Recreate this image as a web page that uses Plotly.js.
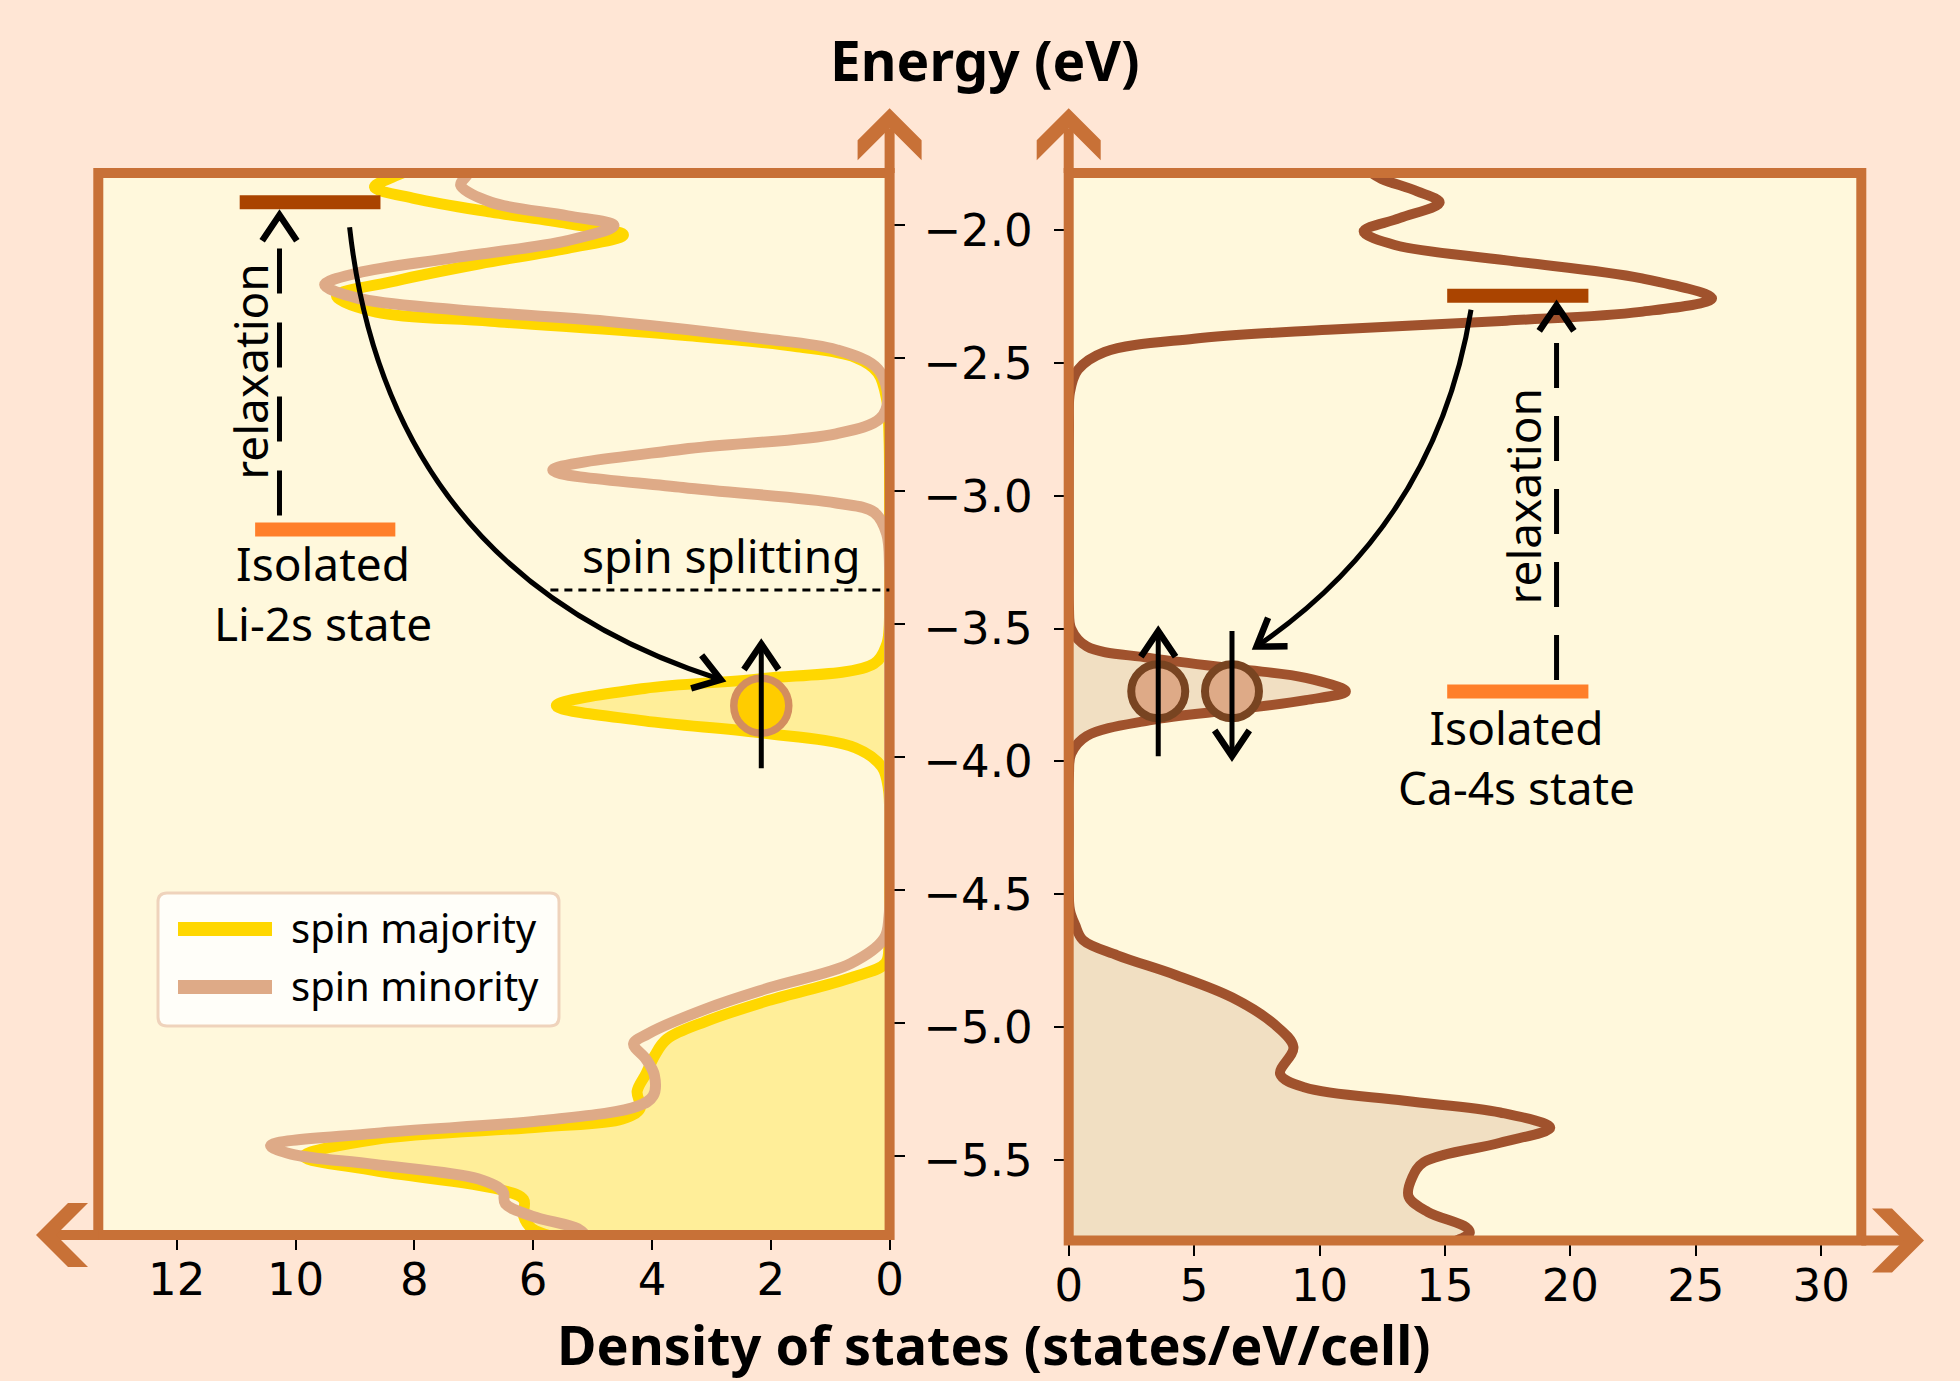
<!DOCTYPE html>
<html>
<head>
<meta charset="utf-8">
<script src="https://cdn.plot.ly/plotly-3.0.1.min.js"></script>
<style>
  html, body { margin: 0; padding: 0; background: #FFE6D5; }
  #chart { width: 1960px; height: 1381px; }
</style>
</head>
<body>
<div id="chart"></div>
<script>
// ---- Li: spin-resolved density of states (energy in eV, DOS in states/eV/cell)
const liEnergyMaj = [-1.78, -1.822, -1.858, -1.901, -1.952, -1.995, -2.038, -2.088, -2.146, -2.21, -2.268,
  -2.328, -2.362, -2.415, -2.458, -2.498, -2.555, -2.656, -2.8, -3.0, -3.2, -3.4, -3.52, -3.577, -3.649,
  -3.706, -3.742, -3.807, -3.864, -3.908, -3.965, -4.037, -4.12, -4.3, -4.5, -4.7, -4.775, -4.829, -4.915,
  -4.993, -5.06, -5.12, -5.19, -5.256, -5.32, -5.36, -5.39, -5.437, -5.5, -5.554, -5.624, -5.663, -5.725,
  -5.772, -5.80];
const liDosMaj = [7.9, 8.38, 8.67, 7.99, 6.71, 5.42, 4.48, 5.42, 6.9, 8.31, 9.31,
  8.64, 6.71, 3.48, 1.55, 0.58, 0.2, 0.05, 0.01, 0, 0, 0, 0.01, 0.05, 0.26,
  2.2, 4.13, 5.61, 4.13, 2.2, 0.58, 0.13, 0.02, 0, 0, 0.01, 0.07, 0.65, 2.04,
  3.09, 3.75, 3.95, 4.1, 4.25, 4.2, 4.5, 5.88, 8.67, 9.86, 8.67, 6.58, 6.16, 6.16,
  6.02, 5.7];

const liEnergyMin = [-1.78, -1.815, -1.851, -1.915, -1.966, -2.002, -2.059, -2.124, -2.181, -2.225, -2.275,
  -2.318, -2.362, -2.426, -2.469, -2.541, -2.656, -2.728, -2.785, -2.843, -2.922, -2.987, -3.045, -3.08,
  -3.16, -3.3, -3.5, -3.8, -4.1, -4.4, -4.6, -4.681, -4.775, -4.868, -4.946, -5.04, -5.078, -5.135, -5.195,
  -5.273, -5.312, -5.367, -5.414, -5.46, -5.492, -5.531, -5.585, -5.632, -5.678, -5.725, -5.772, -5.80];
const liDosMin = [7.0, 7.12, 7.22, 6.71, 5.42, 4.64, 5.42, 7.35, 8.96, 9.51, 8.96,
  7.35, 4.77, 2.2, 0.9, 0.2, 0.03, 0.16, 0.9, 3.48, 5.67, 3.48, 0.9, 0.26,
  0.05, 0, 0, 0, 0, 0, 0.01, 0.09, 0.65, 2.04, 3.09, 4.07, 4.31, 4.1, 3.96,
  3.98, 4.24, 5.88, 8.67, 10.42, 10.07, 8.67, 6.93, 6.51, 6.47, 6.02, 5.25, 5.1];

// ---- Ca: total density of states
const caEnergy = [-1.78, -1.806, -1.853, -1.895, -1.954, -2.004, -2.055, -2.113, -2.18, -2.256, -2.307,
  -2.34, -2.374, -2.408, -2.458, -2.525, -2.61, -2.75, -3.0, -3.25, -3.42, -3.50, -3.567, -3.61, -3.652,
  -3.685, -3.736, -3.769, -3.803, -3.845, -3.904, -3.971, -4.05, -4.25, -4.45, -4.56, -4.616, -4.673,
  -4.73, -4.803, -4.889, -4.99, -5.076, -5.177, -5.228, -5.278, -5.322, -5.379, -5.436, -5.509, -5.566,
  -5.638, -5.696, -5.754, -5.775, -5.81];
const caDos = [12.0, 12.47, 13.9, 14.79, 13.19, 11.76, 13.0, 17.46, 22.8, 25.65, 22.8,
  17.46, 10.34, 4.99, 1.43, 0.37, 0.05, 0.01, 0, 0, 0.01, 0.1, 0.72, 3.21, 6.78,
  9.45, 11.05, 9.45, 6.78, 3.21, 0.72, 0.1, 0.01, 0, 0, 0.05, 0.26, 0.57,
  1.94, 4.23, 6.52, 8.2, 8.96, 8.43, 9.42, 13.39, 17.2, 19.2, 17.2, 14.16, 13.7,
  13.55, 14.31, 15.84, 15.99, 15.3];

// occupied states are shaded below this energy
const eOccupied = -3.37;

// ticks
const energyTicks = [-2.0, -2.5, -3.0, -3.5, -4.0, -4.5, -5.0, -5.5];
const energyTickText = ['\u22122.0', '\u22122.5', '\u22123.0', '\u22123.5', '\u22124.0', '\u22124.5', '\u22125.0', '\u22125.5'];
const liDosTicks = [0, 2, 4, 6, 8, 10, 12];
const caDosTicks = [0, 5, 10, 15, 20, 25, 30];

// energy levels (eV) and their horizontal extent (DOS units)
const liRelaxedE = -1.915, liRelaxedDos = [8.57, 10.94];
const liIsolatedE = -3.145, liIsolatedDos = [8.32, 10.68];
const caRelaxedE = -2.246, caIsolatedE = -3.737, caLevelDos = [15.09, 20.72];

// electrons sitting in the occupied peaks
const liElectronDos = [2.16], liElectronE = [-3.807];
const caElectronDos = [3.57, 6.51], caElectronE = [-3.736, -3.736];

// spin splitting marker
const eSplit = -3.372, splitDos = [5.71, 0];

// ---------------------------------------------------------------------------
const W = 1960, H = 1381;
const liBox = {left: 98.3, right: 889.6, top: 173, bottom: 1235};
const caBox = {left: 1068.7, right: 1861.3, top: 173, bottom: 1240.5};
const liDosRange = [13.32, 0], liEnergyRange = [-5.796, -1.805];
const caDosRange = [0, 31.6], caEnergyRange = [-5.804, -1.784];

const spine = '#C87137';
const textFont = 'Noto Sans, DejaVu Sans, sans-serif';
const tickFont = {family: 'DejaVu Sans, sans-serif', size: 45, color: '#000'};

function pxScale(box, xr, yr) {
  return {kx: (box.right - box.left) / (xr[1] - xr[0]),
          ky: -(box.bottom - box.top) / (yr[1] - yr[0])};
}
const liSc = pxScale(liBox, liDosRange, liEnergyRange);
const caSc = pxScale(caBox, caDosRange, caEnergyRange);

const px = x => x / W, py = y => 1 - y / H;

function below(es, ds, cut) {
  const x = [], y = [];
  es.forEach((e, i) => { if (e <= cut) { x.push(ds[i]); y.push(e); } });
  return {x, y};
}

// open arrow head (data coords), u = pixel direction of travel
function openHead(sc, tip, ux, uy, len = 31, half = 34) {
  const a = half * Math.PI / 180;
  const pts = [a, -a].map(t => {
    const bx = -(ux * Math.cos(t) - uy * Math.sin(t));
    const by = -(ux * Math.sin(t) + uy * Math.cos(t));
    return [tip[0] + bx * len / sc.kx, tip[1] + by * len / sc.ky];
  });
  return `M${pts[0][0]},${pts[0][1]} L${tip[0]},${tip[1]} L${pts[1][0]},${pts[1][1]}`;
}

// filled chevron for the axis arrows (pixel coords in, paper path out)
function axisHead(tx, ty, ux, uy) {
  const nx = -uy, ny = ux;
  const P = (a, b) => [tx + a * ux + b * nx, ty + a * uy + b * ny];
  const pts = [P(0, 0), P(-32, 32), P(-52, 32), P(-20, 0), P(-52, -32), P(-32, -32)];
  return 'M' + pts.map(p => `${px(p[0])},${py(p[1])}`).join(' L') + ' Z';
}

function roundRect(x0, y0, x1, y1, r) {
  const P = (x, y) => `${px(x)},${py(y)}`;
  return `M${P(x0 + r, y0)} L${P(x1 - r, y0)} Q${P(x1, y0)} ${P(x1, y0 + r)} L${P(x1, y1 - r)} ` +
         `Q${P(x1, y1)} ${P(x1 - r, y1)} L${P(x0 + r, y1)} Q${P(x0, y1)} ${P(x0, y1 - r)} ` +
         `L${P(x0, y0 + r)} Q${P(x0, y0)} ${P(x0 + r, y0)} Z`;
}

const headWidth = 6.5;

// curved transfer arrow: quadratic Bezier in data coords + head along end tangent
function curvedArrow(sc, xref, yref, p0, c, p2) {
  const dx = (p2[0] - c[0]) * sc.kx, dy = (p2[1] - c[1]) * sc.ky;
  const n = Math.hypot(dx, dy);
  return [
    {type: 'path', xref, yref, layer: 'above', line: {color: '#000', width: 5},
     path: `M${p0[0]},${p0[1]} Q${c[0]},${c[1]} ${p2[0]},${p2[1]}`},
    {type: 'path', xref, yref, layer: 'above', line: {color: '#000', width: headWidth},
     path: openHead(sc, p2, dx / n, dy / n)}
  ];
}

function vArrow(sc, xref, yref, x, yFrom, yTo, width, dash) {
  const up = yTo > yFrom;
  return [
    {type: 'line', xref, yref, layer: 'above', x0: x, x1: x, y0: yFrom, y1: yTo,
     line: {color: '#000', width, dash: dash || 'solid'}},
    {type: 'path', xref, yref, layer: 'above', line: {color: '#000', width: headWidth},
     path: openHead(sc, [x, yTo], 0, up ? -1 : 1)}
  ];
}

// ---------------------------------------------------------------------------
const liFill = below(liEnergyMaj, liDosMaj, eOccupied);
const caFill = below(caEnergy, caDos, eOccupied);

const traces = [
  {x: liFill.x, y: liFill.y, xaxis: 'x', yaxis: 'y', mode: 'lines', fill: 'tozerox',
   fillcolor: 'rgba(255,215,0,0.3)', line: {width: 0, shape: 'spline'}, hoverinfo: 'skip', showlegend: false},
  {x: liDosMaj, y: liEnergyMaj, xaxis: 'x', yaxis: 'y', mode: 'lines', name: 'spin majority',
   line: {color: '#FFD700', width: 11, shape: 'spline'}, showlegend: false},
  {x: liDosMin, y: liEnergyMin, xaxis: 'x', yaxis: 'y', mode: 'lines', name: 'spin minority',
   line: {color: '#DEAA87', width: 11, shape: 'spline'}, showlegend: false},
  {x: liElectronDos, y: liElectronE, xaxis: 'x', yaxis: 'y', mode: 'markers', showlegend: false,
   marker: {size: 55, color: '#FFCC00', line: {color: '#D38D5F', width: 7.5}}},
  {x: caFill.x, y: caFill.y, xaxis: 'x2', yaxis: 'y2', mode: 'lines', fill: 'tozerox',
   fillcolor: 'rgba(160,82,45,0.15)', line: {width: 0, shape: 'spline'}, hoverinfo: 'skip', showlegend: false},
  {x: caDos, y: caEnergy, xaxis: 'x2', yaxis: 'y2', mode: 'lines', name: 'Ca',
   line: {color: '#A0522D', width: 10, shape: 'spline'}, showlegend: false},
  {x: caElectronDos, y: caElectronE, xaxis: 'x2', yaxis: 'y2', mode: 'markers', showlegend: false,
   marker: {size: 54, color: '#DEAA87', line: {color: '#784421', width: 8}}}
];

const shapes = [];

// panel frames
shapes.push({type: 'rect', xref: 'x domain', yref: 'y domain', x0: 0, x1: 1, y0: 0, y1: 1,
  layer: 'above', line: {color: spine, width: 10}});
shapes.push({type: 'rect', xref: 'x2 domain', yref: 'y2 domain', x0: 0, x1: 1, y0: 0, y1: 1,
  layer: 'above', line: {color: spine, width: 10}});

// axis arrows: energy axes point up, DOS axes point outward
const heads = [
  {x0: liBox.right, y0: liBox.top, tx: liBox.right, ty: 108.3, ux: 0, uy: -1},
  {x0: caBox.left, y0: caBox.top, tx: caBox.left, ty: 108.3, ux: 0, uy: -1},
  {x0: liBox.left, y0: liBox.bottom, tx: 36, ty: liBox.bottom, ux: -1, uy: 0},
  {x0: caBox.right, y0: caBox.bottom, tx: 1924, ty: caBox.bottom, ux: 1, uy: 0}
];
heads.forEach(h => {
  shapes.push({type: 'line', xref: 'paper', yref: 'paper', layer: 'above',
    x0: px(h.x0), y0: py(h.y0), x1: px(h.tx - 20 * h.ux), y1: py(h.ty - 20 * h.uy),
    line: {color: spine, width: 10}});
  shapes.push({type: 'path', xref: 'paper', yref: 'paper', layer: 'above',
    path: axisHead(h.tx, h.ty, h.ux, h.uy), fillcolor: spine, line: {width: 0}});
});

// energy level bars
shapes.push({type: 'line', xref: 'x', yref: 'y', layer: 'above', x0: liRelaxedDos[0], x1: liRelaxedDos[1],
  y0: liRelaxedE, y1: liRelaxedE, line: {color: '#AA4400', width: 14}});
shapes.push({type: 'line', xref: 'x', yref: 'y', layer: 'above', x0: liIsolatedDos[0], x1: liIsolatedDos[1],
  y0: liIsolatedE, y1: liIsolatedE, line: {color: '#FF7F2A', width: 14}});
shapes.push({type: 'line', xref: 'x2', yref: 'y2', layer: 'above', x0: caLevelDos[0], x1: caLevelDos[1],
  y0: caRelaxedE, y1: caRelaxedE, line: {color: '#AA4400', width: 14}});
shapes.push({type: 'line', xref: 'x2', yref: 'y2', layer: 'above', x0: caLevelDos[0], x1: caLevelDos[1],
  y0: caIsolatedE, y1: caIsolatedE, line: {color: '#FF7F2A', width: 14}});

// spin splitting marker
shapes.push({type: 'line', xref: 'x', yref: 'y', layer: 'above', x0: splitDos[0], x1: splitDos[1],
  y0: eSplit, y1: eSplit, line: {color: '#000', width: 2.8, dash: '8px,6px'}});

// relaxation arrows (dashed, from the isolated level upward)
shapes.push(...vArrow(liSc, 'x', 'y', 10.27, -3.092, -1.963, 5, '45px,29px'));
shapes.push(...vArrow(caSc, 'x2', 'y2', 19.45, -3.693, -2.282, 5, '45px,28px'));

// transfer arrows from the relaxed level into the occupied peak
shapes.push(...curvedArrow(liSc, 'x', 'y', [9.09, -2.009], [8.44, -3.312], [2.84, -3.709]));
shapes.push(...curvedArrow(caSc, 'x2', 'y2', [16.04, -2.299], [14.65, -3.107], [7.49, -3.567]));

// spin arrows through the electrons
shapes.push(...vArrow(liSc, 'x', 'y', liElectronDos[0], -4.042, -3.575, 5));
shapes.push(...vArrow(caSc, 'x2', 'y2', caElectronDos[0], -3.98, -3.509, 5));
shapes.push(...vArrow(caSc, 'x2', 'y2', caElectronDos[1], -3.509, -3.98, 5));

// legend box and keys
shapes.push({type: 'path', xref: 'paper', yref: 'paper', layer: 'above',
  path: roundRect(158, 893, 559, 1026, 9), fillcolor: 'rgba(255,254,250,0.95)',
  line: {color: '#EFD3BC', width: 3}});
shapes.push({type: 'line', xref: 'paper', yref: 'paper', layer: 'above',
  x0: px(178), x1: px(272), y0: py(929), y1: py(929), line: {color: '#FFD700', width: 14}});
shapes.push({type: 'line', xref: 'paper', yref: 'paper', layer: 'above',
  x0: px(178), x1: px(272), y0: py(987), y1: py(987), line: {color: '#DEAA87', width: 14}});

const note = (text, x, y, xref, yref, extra) => Object.assign({
  text, x, y, xref, yref, showarrow: false, xanchor: 'center', yanchor: 'middle',
  font: {family: textFont, size: 46, color: '#000'}}, extra || {});

const annotations = [
  note('Energy (eV)', px(985), py(60), 'paper', 'paper',
    {font: {family: textFont, size: 55, color: '#000', weight: 'bold'}}),
  note('Density of states (states/eV/cell)', px(994), py(1344), 'paper', 'paper',
    {borderpad: 0, font: {family: textFont, size: 54, color: '#000', weight: 'bold'}}),
  note('relaxation', 10.77, -2.549, 'x', 'y', {textangle: -90}),
  note('relaxation', 18.1, -3.0, 'x2', 'y2', {textangle: -90}),
  note('Isolated<br>Li-2s state', 9.53, -3.383, 'x', 'y'),
  note('Isolated<br>Ca-4s state', 17.84, -3.985, 'x2', 'y2'),
  note('spin splitting', 2.83, -3.24, 'x', 'y'),
  note('spin majority', px(289), py(927), 'paper', 'paper',
    {xanchor: 'left', font: {family: textFont, size: 40, color: '#000'}}),
  note('spin minority', px(289), py(985), 'paper', 'paper',
    {xanchor: 'left', font: {family: textFont, size: 40, color: '#000'}})
];

const axisCommon = {
  showgrid: false, zeroline: false, showline: false, fixedrange: true,
  ticks: 'outside', ticklen: 14, tickwidth: 2, tickcolor: '#000', tickfont: tickFont
};

const layout = {
  width: W, height: H,
  margin: {l: 0, r: 0, t: 0, b: 0},
  paper_bgcolor: '#FFE6D5',
  plot_bgcolor: '#FFF8DC',
  showlegend: false,
  xaxis: Object.assign({}, axisCommon, {
    domain: [px(liBox.left), px(liBox.right)], range: liDosRange, anchor: 'y',
    tickvals: liDosTicks, ticktext: liDosTicks.map(String), ticklabelstandoff: -9}),
  yaxis: Object.assign({}, axisCommon, {
    domain: [py(liBox.bottom), py(liBox.top)], range: liEnergyRange, anchor: 'x', side: 'right',
    tickvals: energyTicks, showticklabels: false}),
  xaxis2: Object.assign({}, axisCommon, {
    domain: [px(caBox.left), px(caBox.right)], range: caDosRange, anchor: 'y2',
    tickvals: caDosTicks, ticktext: caDosTicks.map(String), ticklabelstandoff: -9}),
  yaxis2: Object.assign({}, axisCommon, {
    domain: [py(caBox.bottom), py(caBox.top)], range: caEnergyRange, anchor: 'x2', side: 'left',
    tickvals: energyTicks, ticktext: energyTickText, ticklabelstandoff: 12}),
  shapes, annotations
};

Plotly.newPlot('chart', traces, layout, {staticPlot: true, displayModeBar: false});
</script>
</body>
</html>
